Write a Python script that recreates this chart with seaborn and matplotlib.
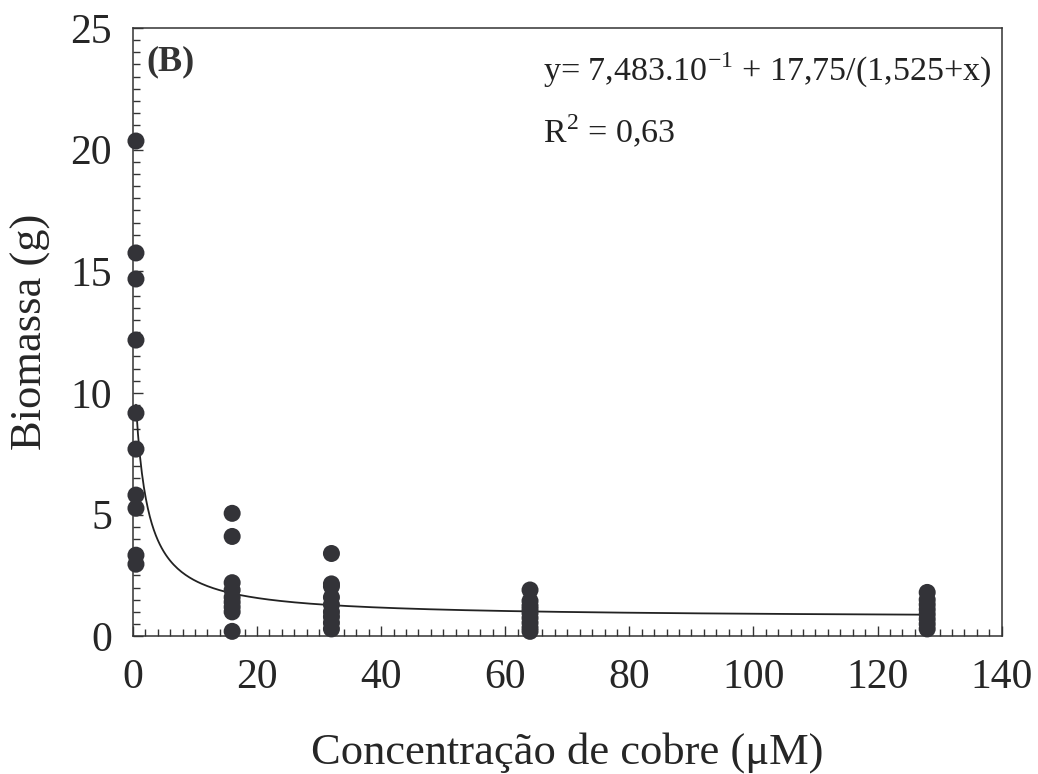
# -*- coding: utf-8 -*-
# biomass vs copper concentration, panel (B)

# %%
# imports
import numpy as np
import pandas as pd
import matplotlib
matplotlib.use("Agg")
import matplotlib.pyplot as plt
import seaborn as sns
from matplotlib.ticker import MultipleLocator


# %%
# data
conc_levels = [0.5, 16, 32, 64, 128]

biomass_0 = [20.35, 15.75, 14.68, 12.17, 9.17, 7.69, 5.8, 5.26, 3.33, 2.96]
biomass_16 = [5.05, 4.1, 2.2, 1.9, 1.6, 1.4, 1.2, 1.0, 0.2]
biomass_32 = [3.4, 2.15, 2.05, 1.6, 1.3, 1.0, 0.8, 0.55, 0.3]
biomass_64 = [1.9, 1.45, 1.25, 1.1, 0.95, 0.75, 0.55, 0.35, 0.2]
biomass_128 = [1.8, 1.5, 1.3, 1.1, 0.9, 0.7, 0.5, 0.3]

# fitted model shown in the figure: y = a + b/(c + x)
fit_a = 0.7483
fit_b = 17.75
fit_c = 1.525

eq_text = r"y= 7,483.10$^{-1}$ + 17,75/(1,525+x)"
r2_text = r"R$^{2}$ = 0,63"


# %%
# build long table
groups = [biomass_0, biomass_16, biomass_32, biomass_64, biomass_128]
biomass_df = pd.DataFrame({
    "conc": np.concatenate([[c] * len(g) for c, g in zip(conc_levels, groups)]),
    "biomass": np.concatenate(groups),
})

fit_x = np.linspace(0.5, 128, 400)
fit_df = pd.DataFrame({"conc": fit_x, "biomass": fit_a + fit_b / (fit_c + fit_x)})


# %%
# plot
sns.set_style("ticks")
plt.rcParams["font.family"] = ["Liberation Serif", "DejaVu Serif"]
plt.rcParams["mathtext.fontset"] = "custom"
plt.rcParams["mathtext.rm"] = "Liberation Serif"

fig = plt.figure(figsize=(10.38, 7.74), dpi=100)
ax = fig.add_axes([0.128, 0.178, 0.837, 0.786])

sns.lineplot(data=fit_df, x="conc", y="biomass", color="#222222", linewidth=1.3, ax=ax)
sns.scatterplot(data=biomass_df, x="conc", y="biomass", color="#333338",
                s=150, edgecolor="none", ax=ax, zorder=3, clip_on=False)

ax.set_xlim(0, 140)
ax.set_ylim(0, 25)
ax.xaxis.set_major_locator(MultipleLocator(20))
ax.xaxis.set_minor_locator(MultipleLocator(2))
ax.yaxis.set_major_locator(MultipleLocator(5))
ax.yaxis.set_minor_locator(MultipleLocator(0.5))
ax.tick_params(which="both", direction="in", top=False, right=False,
               labelsize=30, color="#333333", width=1)
ax.tick_params(which="major", length=7)
ax.tick_params(axis="x", which="major", pad=16)
ax.tick_params(axis="y", which="major", pad=15)
ax.tick_params(which="minor", length=5)
for sp in ax.spines.values():
    sp.set_color("#333333")
    sp.set_linewidth(1.1)

ax.set_xlabel("Concentração de cobre (μM)", fontsize=32, labelpad=25)
ax.set_ylabel("Biomassa (g)", fontsize=32, labelpad=14)

ax.text(0.016, 0.972, "(B)", transform=ax.transAxes, fontsize=26,
        fontweight="bold", va="top", ha="left", color="#333333")
ax.text(0.472, 0.93, eq_text, transform=ax.transAxes, fontsize=24.5,
        va="center", ha="left", color="#222222")
ax.text(0.472, 0.83, r2_text, transform=ax.transAxes, fontsize=24.5,
        va="center", ha="left", color="#222222")

fig.savefig("out.png", dpi=100)
